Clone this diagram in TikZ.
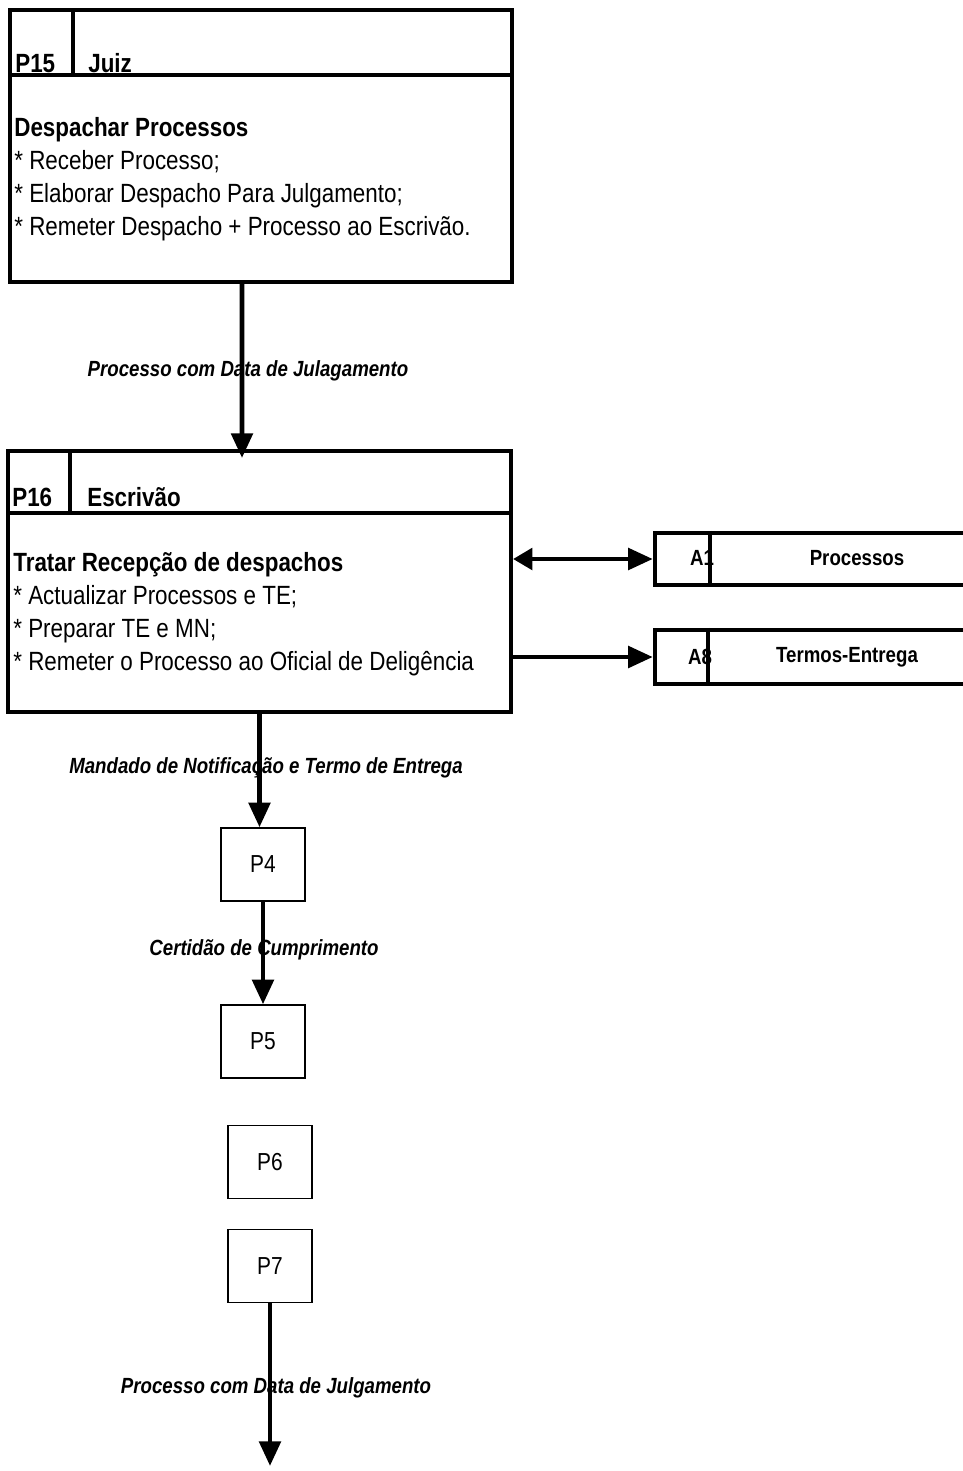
\documentclass[tikz,border=0pt]{standalone}
\usepackage{fontspec}
\setmainfont{Liberation Sans}[FakeStretch=0.85]
\usetikzlibrary{arrows.meta,positioning}

\begin{document}
\begin{tikzpicture}[x=0.02cm, y=-0.02cm,
    bigbox/.style={draw, line width=2.3pt, inner sep=0pt},
    smallbox/.style={draw, line width=0.8pt, minimum width=1.68cm, minimum height=1.46cm,
      font=\fontsize{14}{16}\selectfont},
    storebox/.style={draw, line width=2.5pt, minimum width=6.9cm, inner sep=0pt},
    headtext/.style={inner sep=0pt, anchor=base west, font=\fontsize{15}{18}\selectfont\bfseries},
    bodytext/.style={inner sep=0pt, anchor=base west, align=left, font=\fontsize{15}{18.6}\selectfont},
    storetext/.style={inner sep=0pt, font=\fontsize{12.5}{14}\selectfont\bfseries},
    flowlabel/.style={inner sep=0pt, font=\fontsize{12.5}{14}\selectfont\bfseries\itshape},
    flow/.style={line width=2.8pt, -{Triangle[length=14pt,width=12pt]}}]
  \useasboundingbox (0,0) rectangle (963,1471);
  \clip (0,0) rectangle (963,1471);

  % P15 - Juiz
  \node[bigbox, minimum width=10.04cm, minimum height=5.44cm] (p15) at (261,146) {};
  \draw[line width=2.3pt] ([yshift=-1.34cm]p15.north west) -- ([yshift=-1.34cm]p15.north east);
  \draw[line width=2.3pt] ([xshift=1.3cm]p15.north west) -- ++(0,-1.34cm);
  \node[headtext] (p15id) at (15,72) {P15};
  \node[headtext] (p15who) at (88,72) {Juiz};
  % base = baseline of the last line
  \node[bodytext] (p15text) at (14,235) {\textbf{Despachar Processos}\\{}* Receber Processo;\\{}* Elaborar Despacho Para Julgamento;\\{}* Remeter Despacho + Processo ao Escrivão.};

  % P16 - Escrivao
  \node[bigbox, minimum width=10.06cm, minimum height=5.22cm] (p16) at (259.5,581.5) {};
  \draw[line width=2.3pt] ([yshift=-1.28cm]p16.north west) -- ([yshift=-1.28cm]p16.north east);
  \draw[line width=2.3pt] ([xshift=1.28cm]p16.north west) -- ++(0,-1.28cm);
  \node[headtext] (p16id) at (12,506) {P16};
  \node[headtext] (p16who) at (87,506) {Escrivão};
  \node[bodytext] (p16text) at (13,670) {\textbf{Tratar Recepção de despachos}\\{}* Actualizar Processos e TE;\\{}* Preparar TE e MN;\\{}* Remeter o Processo ao Oficial de Deligência};

  % arquivos
  \node[storebox, minimum height=1.04cm] (a1) at (827.5,559) {};
  \node[storetext] (a1id) at (702,558) {A1};
  \node[storetext] (a1name) at (857,558) {Processos};
  \draw[line width=2pt] ([xshift=1.14cm]a1.north west) -- ([xshift=1.14cm]a1.south west);
  \node[storebox, minimum height=1.08cm] (a8) at (827.5,657) {};
  \node[storetext] (a8id) at (700,657) {A8};
  \node[storetext] (a8name) at (847,657) {Termos-Entrega};
  \draw[line width=2pt] ([xshift=1.1cm]a8.north west) -- ([xshift=1.1cm]a8.south west);

  % processos seguintes
  \node[smallbox] (p4) at (263,864.5) {P4};
  \node[smallbox] (p5) at (263,1041.5) {P5};
  \node[smallbox] (p6) at (270,1162) {P6};
  \node[smallbox] (p7) at (270,1266) {P7};
  \coordinate (fim) at (270,1466);

  % fluxos
  \node[flowlabel] (f1) at (248,371) {Processo com Data de Julagamento};
  \node[flowlabel] (f2) at (266,768) {Mandado de Notificação e Termo de Entrega};
  \node[flowlabel] (f3) at (264,950) {Certidão de Cumprimento};
  \node[flowlabel] (f4) at (276,1388) {Processo com Data de Julgamento};
  \draw[flow] ([xshift=-0.38cm]p15.south) -- ([xshift=-0.35cm,yshift=-0.18cm]p16.north);
  \draw[flow, {Triangle[length=11pt,width=12pt]}-{Triangle[length=14pt,width=12pt]}] (p16.east |- a1.west) -- (a1.west);
  \draw[flow] (p16.east |- a8.west) -- (a8.west);
  \draw[flow] (p16.south) -- (p4.north -| p16.south);
  \draw[flow] (p4.south) -- (p5.north);
  \draw[flow] (p7.south) -- (fim);
\end{tikzpicture}
\end{document}
